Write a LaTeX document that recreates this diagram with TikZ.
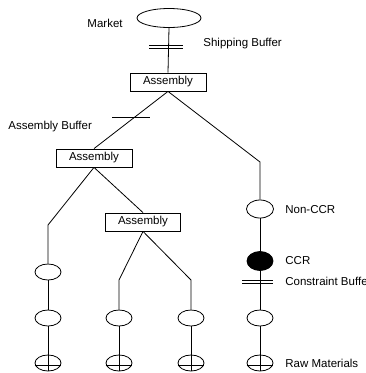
\documentclass[tikz,border=0pt]{standalone}
\usepackage{fontspec}
\setmainfont{Liberation Sans}
\usepackage{tikz}
\usetikzlibrary{calc,positioning,shapes.geometric}

\begin{document}
\begin{tikzpicture}[x=1pt,y=-1pt,line width=0.8pt,
  font=\fontsize{11.5}{13}\selectfont,
  asmbox/.style={draw,rectangle,minimum width=76pt,minimum height=18pt,inner sep=0pt},
  stock/.style={draw,ellipse,minimum width=26pt,minimum height=16pt,inner sep=0pt},
  buffer/.style={line width=0.8pt},
  lbl/.style={anchor=west,inner sep=0pt}]
\useasboundingbox (0,0) rectangle (365,373);
\node[draw,ellipse,minimum width=64pt,minimum height=19pt,inner sep=0pt] (market) at (169,18) {};
\node[asmbox] (asmA) at (168,82) {Assembly};
\node[asmbox] (asmB) at (94,158) {Assembly};
\node[asmbox,minimum width=75pt] (asmC) at (143,222) {Assembly};
\node[stock,minimum width=27pt,minimum height=18pt] (noncr) at (260,209) {};
\node[stock,fill=black,minimum height=19pt] (ccr) at (260,261) {};
\node[stock] (s1a) at (48,272) {};
\node[stock] (s1b) at (48,318) {};
\node[stock] (s2b) at (119,318) {};
\node[stock] (s3b) at (191,318) {};
\node[stock] (s4b) at (260,318) {};
\node[stock] (raw1) at (48,363) {};
\node[stock] (raw2) at (119,363) {};
\node[stock] (raw3) at (191,363) {};
\node[stock] (raw4) at (260,363) {};
\coordinate (kR) at (260,162);
\coordinate (kL) at (48,225);
\coordinate (k2) at (119,280);
\coordinate (k3) at (191,280);
\draw (market.south) -- (asmA.north);
\draw (asmA.south) -- (asmB.north);
\draw (asmA.south) -- (kR) -- (noncr.north);
\draw (noncr.south) -- (ccr.north);
\draw (ccr.south) -- (s4b.north);
\draw (s4b.south) -- (raw4.north);
\draw (asmB.south) -- (kL) -- (s1a.north);
\draw (s1a.south) -- (s1b.north);
\draw (s1b.south) -- (raw1.north);
\draw (asmB.south) -- (asmC.north);
\draw (asmC.south) -- (k2) -- (s2b.north);
\draw (asmC.south) -- (k3) -- (s3b.north);
\draw (s2b.south) -- (raw2.north);
\draw (s3b.south) -- (raw3.north);
\foreach \r in {raw1,raw2,raw3,raw4}{
  \draw (\r.north) -- (\r.south);
  \draw ($(\r.west)+(0,2)$) -- ($(\r.east)+(0,2)$);
}
\foreach \dy in {-1.5,1.5}{
  \draw[buffer] (149,46.5+\dy) -- (183,46.5+\dy);
  \draw[buffer] (242,282+\dy) -- (273,282+\dy);
}
\draw[buffer] (112,117) -- (150,117);
\node[anchor=east,inner sep=0pt] (tmarket) at (123,23) {Market};
\node[lbl] (tship) at (203,44) {Shipping Buffer};
\node[lbl] (tasm) at (8,127) {Assembly Buffer};
\node[lbl] (tnoncr) at (285,210) {Non-CCR};
\node[lbl] (tccr) at (285,261) {CCR};
\node[lbl] (tcon) at (285,281) {Constraint Buffer};
\node[lbl] (traw) at (285,363) {Raw Materials};
\end{tikzpicture}
\end{document}
